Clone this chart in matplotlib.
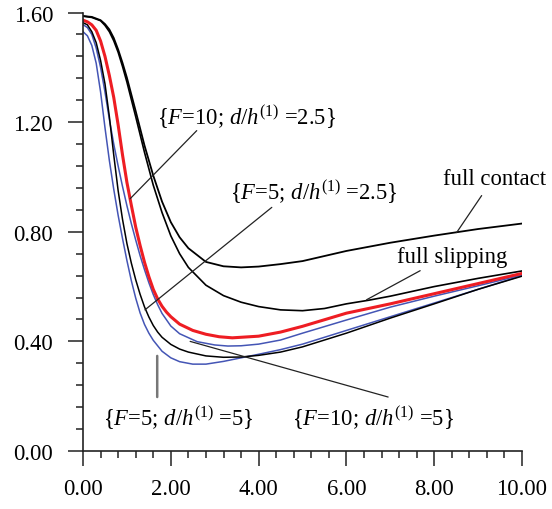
import numpy as np
import matplotlib.pyplot as plt

plt.rcParams['font.family'] = ['Liberation Serif', 'DejaVu Serif']
plt.rcParams['mathtext.fontset'] = 'custom'
plt.rcParams['mathtext.rm'] = 'Liberation Serif'
plt.rcParams['mathtext.it'] = 'Liberation Serif:italic'

# full contact
x_fc = [0, 0.2, 0.4, 0.5, 0.6, 0.7, 0.8, 0.9, 1.0, 1.2, 1.4, 1.6, 1.8, 2.0, 2.2, 2.4,
        2.8, 3.2, 3.6, 4.0, 4.5, 5, 6, 7, 8, 9, 10]
y_fc = [1.587, 1.584, 1.572, 1.558, 1.538, 1.507, 1.465, 1.416, 1.362, 1.24, 1.115,
        1.005, 0.91, 0.835, 0.78, 0.74, 0.69, 0.674, 0.67, 0.673, 0.682, 0.693, 0.73,
        0.76, 0.786, 0.81, 0.83]

# full slipping
x_fs = [0, 0.2, 0.4, 0.5, 0.6, 0.7, 0.8, 0.9, 1.0, 1.2, 1.4, 1.6, 1.8, 2.0, 2.2, 2.4,
        2.8, 3.2, 3.6, 4.0, 4.5, 5, 5.5, 6, 6.5, 7, 8, 9, 10]
y_fs = [1.587, 1.582, 1.57, 1.553, 1.53, 1.497, 1.455, 1.403, 1.346, 1.22, 1.09, 0.97,
        0.87, 0.785, 0.72, 0.67, 0.605, 0.567, 0.543, 0.527, 0.515, 0.512, 0.52, 0.537,
        0.55, 0.565, 0.6, 0.63, 0.657]

# {F=10; d/h=2.5}  (red)
x_r = [0, 0.1, 0.2, 0.3, 0.4, 0.5, 0.6, 0.7, 0.8, 0.9, 1.0, 1.1, 1.2, 1.3, 1.4, 1.5,
       1.6, 1.7, 1.8, 1.9, 2.0, 2.2, 2.5, 2.8, 3.1, 3.4, 4.0, 4.5, 5, 6, 7, 8, 9, 10]
y_r = [1.572, 1.566, 1.555, 1.535, 1.496, 1.44, 1.37, 1.29, 1.19, 1.08, 0.98, 0.897,
       0.817, 0.75, 0.689, 0.636, 0.59, 0.555, 0.528, 0.507, 0.49, 0.463, 0.44, 0.426,
       0.417, 0.413, 0.419, 0.434, 0.455, 0.503, 0.537, 0.574, 0.611, 0.648]

# {F=5; d/h=2.5}  (black)
x_k = [0, 0.1, 0.2, 0.3, 0.4, 0.5, 0.6, 0.7, 0.8, 0.9, 1.0, 1.1, 1.2, 1.3, 1.4, 1.5,
       1.6, 1.7, 1.8, 2.0, 2.2, 2.4, 2.8, 3.2, 3.6, 4.0, 4.5, 5, 6, 7, 8, 9, 10]
y_k = [1.563, 1.555, 1.53, 1.49, 1.425, 1.34, 1.22, 1.08, 0.95, 0.845, 0.757, 0.686,
       0.625, 0.572, 0.526, 0.489, 0.458, 0.434, 0.415, 0.389, 0.372, 0.361, 0.347,
       0.342, 0.343, 0.349, 0.361, 0.38, 0.43, 0.485, 0.537, 0.59, 0.638]

# {F=10; d/h=5}  (blue, upper)
x_bu = [0, 0.1, 0.2, 0.3, 0.4, 0.5, 0.6, 0.7, 0.8, 0.9, 1.0, 1.1, 1.2, 1.3, 1.4, 1.5,
        1.6, 1.7, 1.8, 2.0, 2.2, 2.6, 3.0, 3.3, 3.6, 4.0, 4.5, 5, 6, 7, 8, 9, 10]
y_bu = [1.556, 1.545, 1.52, 1.47, 1.40, 1.31, 1.21, 1.12, 1.04, 0.965, 0.895, 0.83,
        0.77, 0.713, 0.662, 0.614, 0.571, 0.534, 0.502, 0.456, 0.428, 0.399, 0.387,
        0.383, 0.384, 0.39, 0.405, 0.43, 0.478, 0.525, 0.565, 0.603, 0.642]

# {F=5; d/h=5}  (blue, lower)
x_bl = [0, 0.1, 0.2, 0.3, 0.4, 0.5, 0.6, 0.7, 0.8, 0.9, 1.0, 1.1, 1.2, 1.3, 1.4, 1.5,
        1.6, 1.8, 2.0, 2.2, 2.5, 2.8, 3.2, 3.6, 4.0, 4.5, 5, 6, 7, 8, 9, 10]
y_bl = [1.53, 1.515, 1.48, 1.415, 1.31, 1.18, 1.06, 0.955, 0.86, 0.775, 0.695, 0.622,
        0.558, 0.504, 0.462, 0.43, 0.404, 0.364, 0.34, 0.326, 0.317, 0.317, 0.327, 0.34,
        0.353, 0.37, 0.39, 0.44, 0.49, 0.54, 0.59, 0.64]

red = '#ee1d23'
blue = '#4455b5'

fig = plt.figure(figsize=(5.52, 5.10), dpi=100)
ax = fig.add_axes([0.1504, 0.1137, 0.7953, 0.8598])

ax.plot(x_bl, y_bl, color=blue, lw=1.1)
ax.plot(x_bu, y_bu, color=blue, lw=1.1)
ax.plot(x_k, y_k, color='black', lw=1.1)
ax.plot(x_fs, y_fs, color='black', lw=1.2)
ax.plot(x_fc, y_fc, color='black', lw=1.3)
ax.plot(x_r, y_r, color=red, lw=2.2)

ax.set_xlim(0, 10)
ax.set_ylim(0, 1.6)
ax.set_xticks(np.arange(0, 10.01, 2))
ax.set_xticks(np.arange(0, 10.01, 0.4), minor=True)
ax.set_yticks(np.arange(0, 1.61, 0.4))
ax.set_yticks(np.arange(0, 1.61, 0.08), minor=True)
ax.xaxis.set_major_formatter(plt.FormatStrFormatter('%.2f'))
ax.yaxis.set_major_formatter(plt.FormatStrFormatter('%.2f'))

for s in ['top', 'right']:
    ax.spines[s].set_visible(False)
for s in ['left', 'bottom']:
    ax.spines[s].set_linewidth(1.2)
    ax.spines[s].set_color('#222222')

ax.tick_params(which='major', direction='out', length=10.5, width=1.1,
               labelsize=16.3, color='#222222')
ax.tick_params(which='minor', direction='out', length=5, width=1.1, color='#222222')
ax.tick_params(axis='y', which='major', pad=11)
ax.tick_params(axis='x', which='major', pad=9)

# leader lines
lead = dict(arrowstyle='-', color='#222222', lw=0.9, shrinkA=0, shrinkB=0)
ax.annotate('', xy=(1.07, 0.92), xytext=(2.59, 1.169), arrowprops=lead)
ax.annotate('', xy=(1.41, 0.515), xytext=(4.30, 0.889), arrowprops=lead)
ax.annotate('', xy=(8.51, 0.797), xytext=(9.08, 0.932), arrowprops=lead)
ax.annotate('', xy=(6.46, 0.552), xytext=(7.68, 0.658), arrowprops=lead)
ax.annotate('', xy=(2.44, 0.40), xytext=(6.95, 0.197), arrowprops=lead)
ax.annotate('', xy=(1.69, 0.347), xytext=(1.69, 0.197),
            arrowprops=dict(arrowstyle='-', color='#777777', lw=1.8, shrinkA=0, shrinkB=0))

fs_lab = 16.3
ax.text(1.69, 1.223, r'{$F$=10; $d$/$h^{(1)}$ =2.5}', fontsize=fs_lab, va='center')
ax.text(3.35, 0.949, r'{$F$=5; $d$/$h^{(1)}$ =2.5}', fontsize=fs_lab, va='center')
ax.text(8.2, 0.993, 'full contact', fontsize=fs_lab, va='center')
ax.text(7.15, 0.708, 'full slipping', fontsize=fs_lab, va='center')
ax.text(0.46, 0.124, r'{$F$=5; $d$/$h^{(1)}$ =5}', fontsize=fs_lab, va='center')
ax.text(4.76, 0.124, r'{$F$=10; $d$/$h^{(1)}$ =5}', fontsize=fs_lab, va='center')

fig.savefig('out.png', dpi=100)
